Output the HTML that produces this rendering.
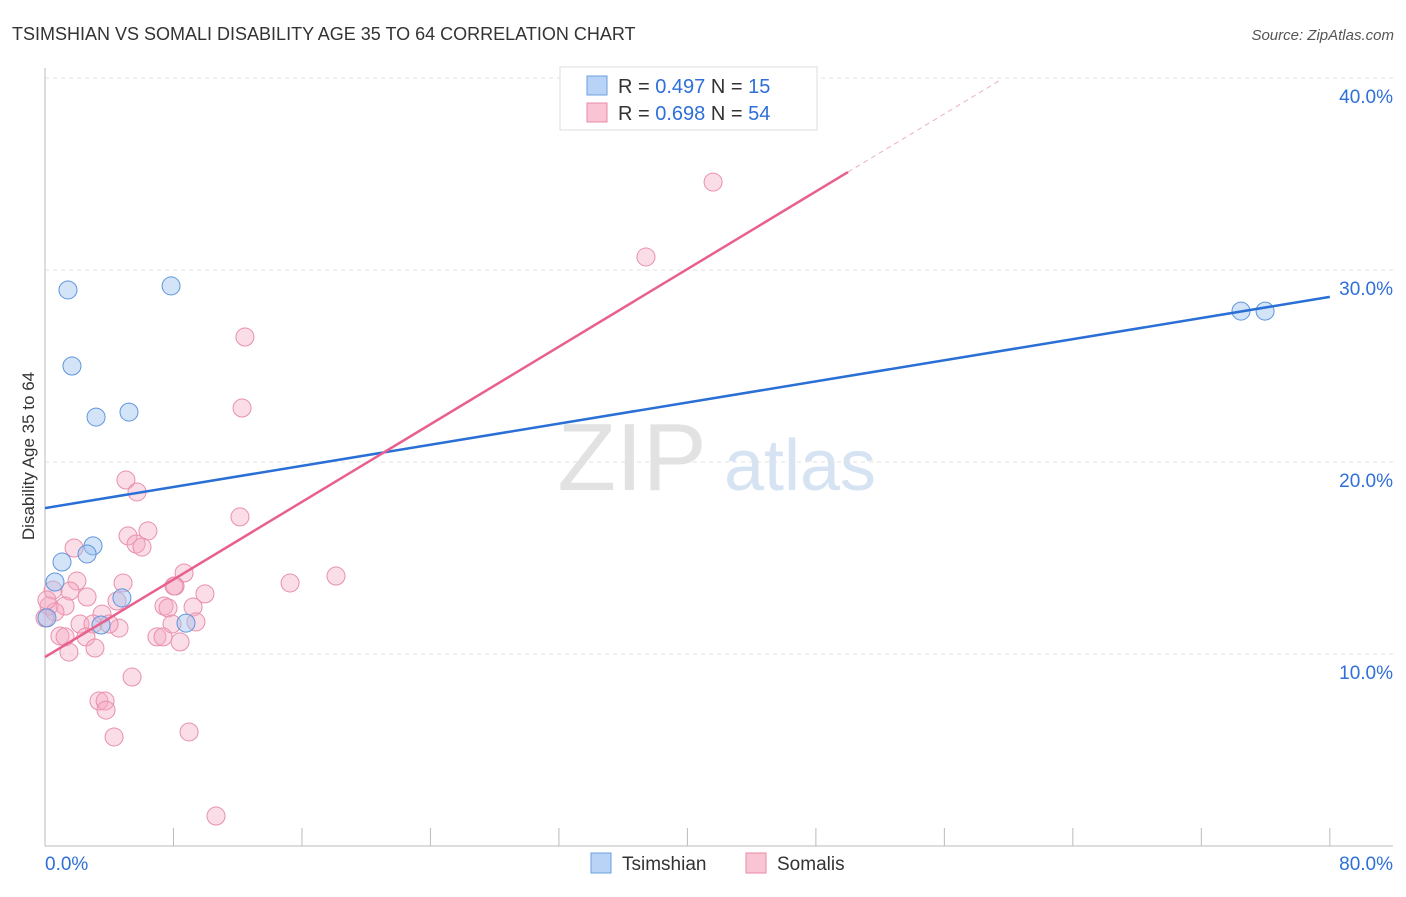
<!DOCTYPE html>
<html><head><meta charset="utf-8"><style>
body{margin:0;background:#fff;font-family:"Liberation Sans",sans-serif}
svg text{font-family:"Liberation Sans",sans-serif}
</style></head><body>
<svg id="c" width="1406" height="892">
<text x="12" y="40" font-size="18" fill="#333">TSIMSHIAN VS SOMALI DISABILITY AGE 35 TO 64 CORRELATION CHART</text>
<text x="1394" y="40" font-size="15" fill="#555" font-style="italic" text-anchor="end">Source: ZipAtlas.com</text>
<text x="632" y="490" font-size="96" fill="#e2e2e2" font-family="Liberation Serif" text-anchor="middle">ZIP</text>
<text x="800" y="490" font-size="72" fill="#d6e3f3" text-anchor="middle">atlas</text>
<text transform="translate(34,456) rotate(-90)" font-size="17" fill="#333" text-anchor="middle">Disability Age 35 to 64</text>
<g id="grid"></g><g id="pts"></g><g id="lines"></g>
<g>
<rect x="560" y="67" width="257" height="63" fill="#fff" stroke="#ddd"/>
<rect x="587" y="76" width="20" height="19" fill="#b8d3f5" stroke="#6a9fe0"/>
<rect x="587" y="103" width="20" height="19" fill="#f9c5d4" stroke="#e88aa6"/>
<text x="618" y="93" font-size="20" fill="#333">R = <tspan fill="#2e6fd8">0.497</tspan>   N =  <tspan fill="#2e6fd8">15</tspan></text>
<text x="618" y="120" font-size="20" fill="#333">R = <tspan fill="#2e6fd8">0.698</tspan>   N = <tspan fill="#2e6fd8">54</tspan></text>
</g>
<g>
<rect x="591" y="853" width="20" height="20" fill="#b8d3f5" stroke="#6a9fe0"/>
<text x="622" y="870" font-size="19" fill="#333">Tsimshian</text>
<rect x="746" y="853" width="20" height="20" fill="#f9c5d4" stroke="#e88aa6"/>
<text x="777" y="870" font-size="19" fill="#333">Somalis</text>
</g>
</svg>
<script>
const yTicks=[10,20,30,40];
const yTickLabels=["10.0%","20.0%","30.0%","40.0%"];
const xTicks=[0,8,16,24,32,40,48,56,64,72,80];
const tsimX=[1.43,7.85,1.68,3.18,5.23,2.99,2.62,1.06,0.62,4.79,3.49,8.78,0.12,74.47,75.97];
const tsimY=[28.96,29.17,25.0,22.34,22.6,15.63,15.21,14.79,13.75,12.92,11.51,11.61,11.88,27.86,27.86];
const somX=[5.04,5.73,12.14,5.17,6.41,5.67,6.04,1.81,12.45,12.27,37.42,41.6,18.12,15.26,8.66,8.1,8.03,4.86,1.99,0.5,1.56,2.62,4.48,9.96,7.41,7.66,9.22,0.25,1.25,0.62,3.55,2.18,2.99,4.61,3.99,9.4,7.91,6.97,7.35,8.41,0.93,1.25,2.55,3.11,1.49,5.42,3.36,3.74,3.8,8.97,4.3,10.65,0,0.12];
const somY=[19.06,18.44,17.14,16.15,16.41,15.73,15.57,15.52,26.51,22.81,30.68,34.58,14.06,13.7,14.22,13.54,13.54,13.7,13.8,13.33,13.28,12.97,12.76,13.13,12.5,12.4,12.45,12.5,12.5,12.19,12.08,11.56,11.56,11.35,11.56,11.67,11.56,10.89,10.89,10.63,10.94,10.89,10.89,10.31,10.1,8.8,7.55,7.55,7.08,5.94,5.68,1.56,11.88,12.81];
const tsimLine=[17.6,28.6];
const somLine=[9.84,35.1];
const somSolidEnd=50, somDashEnd=59.5;
const X=v=>45+v*16.06, Y=v=>846-v*19.2;
const NS="http://www.w3.org/2000/svg";
function mk(t,a,p){const e=document.createElementNS(NS,t);for(const k in a)e.setAttribute(k,a[k]);p.appendChild(e);return e;}
const g=document.getElementById('grid');
yTicks.forEach((v,i)=>{
 const l=mk('line',{x1:45,x2:1393,y1:Y(v),y2:Y(v),stroke:'#e2e2e2','stroke-dasharray':'4,4'},g);
 
 
 const t=mk('text',{x:1393,y:Y(v)+25,'font-size':19,fill:'#2e6fd8','text-anchor':'end'},g);t.textContent=yTickLabels[i];
 
 
});
const ax=mk('line',{x1:45,x2:45,y1:68,y2:846,stroke:'#bbb'},g);


const bx=mk('line',{x1:45,x2:1393,y1:846,y2:846,stroke:'#bbb'},g);


xTicks.forEach(v=>{const t=mk('line',{x1:X(v),x2:X(v),y1:828,y2:846,stroke:'#bbb'},g);
 
 });
[[0,'0.0%','start',45],[80,'80.0%','end',1393]].forEach(a=>{const t=mk('text',{x:a[3],y:870,'font-size':19,fill:'#2e6fd8','text-anchor':a[2]},g);t.textContent=a[1];
 
 });
const p=document.getElementById('pts');
somX.forEach((x,i)=>{const c=mk('circle',{cx:X(x),cy:Y(somY[i]),r:9,fill:'rgba(246,170,195,0.4)',stroke:'#e890ab','stroke-width':1},p);
 
 });
tsimX.forEach((x,i)=>{const c=mk('circle',{cx:X(x),cy:Y(tsimY[i]),r:9,fill:'rgba(160,195,240,0.45)',stroke:'#5f95dd','stroke-width':1},p);
 
 });
const L=document.getElementById('lines');
const bl=mk('line',{x1:X(0),y1:Y(tsimLine[0]),x2:X(80),y2:Y(tsimLine[1]),stroke:'#2a6fd6','stroke-width':2.5},L);


const sl=(somLine[1]-somLine[0])/50;
const pl=mk('line',{x1:X(0),y1:Y(somLine[0]),x2:X(somSolidEnd),y2:Y(somLine[0]+sl*somSolidEnd),stroke:'#e8608d','stroke-width':2.5},L);


const pd=mk('line',{x1:X(somSolidEnd),y1:Y(somLine[0]+sl*somSolidEnd),x2:X(somDashEnd),y2:Y(somLine[0]+sl*somDashEnd),stroke:'#ebb0c3','stroke-width':1,'stroke-dasharray':'5,4'},L);


</script>
</body></html>
